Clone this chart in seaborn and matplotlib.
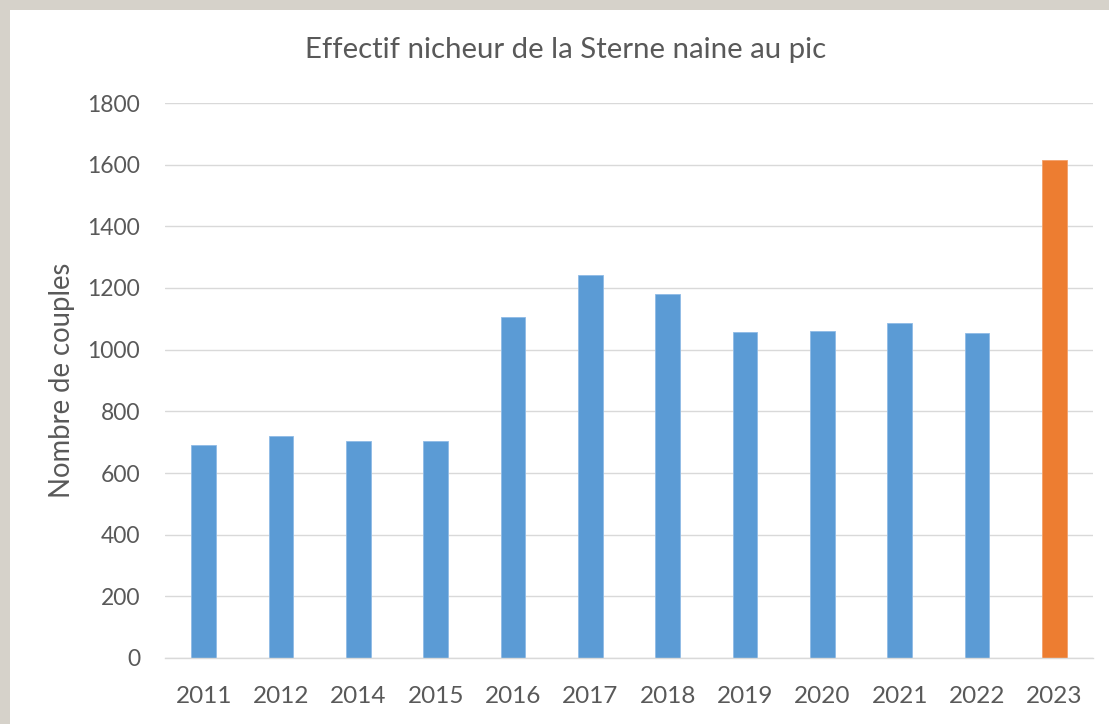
import matplotlib
matplotlib.use("Agg")
import matplotlib.pyplot as plt
import pandas as pd
import seaborn as sns
from matplotlib.patches import Rectangle

# ---------- data ----------
years = ["2011", "2012", "2014", "2015", "2016", "2017",
         "2018", "2019", "2020", "2021", "2022", "2023"]
couples = [690, 720, 705, 705, 1107, 1241, 1182, 1056, 1062, 1087, 1053, 1614]
highlight = ["2023"]

TEXT = "#595959"
BLUE = "#5B9BD5"
ORANGE = "#ED7D31"

sns.set_theme(style="white")
plt.rcParams["font.family"] = ["Lato", "DejaVu Sans"]

df = pd.DataFrame({"annee": years, "couples": couples})
df["groupe"] = ["pic" if y in highlight else "base" for y in years]

fig = plt.figure(figsize=(11.09, 7.24), dpi=100)
fig.patch.set_facecolor("#d6d2ca")
# white chart panel on the textured background
fig.add_artist(Rectangle((10 / 1109, 0), 1 - 10 / 1109, 1 - 10 / 724,
                         transform=fig.transFigure, facecolor="white",
                         edgecolor="none", zorder=-10))

ax = fig.add_axes([165 / 1109, 1 - 658 / 724, (1093 - 165) / 1109, (658 - 103) / 724])
ax.set_zorder(1)
ax.set_facecolor("none")

sns.barplot(data=df, x="annee", y="couples", hue="groupe",
            palette={"base": BLUE, "pic": ORANGE}, width=0.32, saturation=1,
            dodge=False, legend=False, ax=ax, edgecolor="#8fbbe6", linewidth=0.6)
for bar, g in zip(ax.patches, df["groupe"]):
    if g == "pic":
        bar.set_edgecolor("#f3a06a")

ax.set_ylim(0, 1800)
ax.set_xlim(-0.5, len(years) - 0.5)
ax.set_yticks(range(0, 1801, 200))
ax.yaxis.grid(True, color="#d9d9d9", linewidth=1.0)
ax.set_axisbelow(True)
for s in ["top", "right", "left"]:
    ax.spines[s].set_visible(False)
ax.spines["bottom"].set_color("#d9d9d9")
ax.spines["bottom"].set_linewidth(1.0)

ax.tick_params(axis="both", length=0, labelcolor=TEXT)
ax.tick_params(axis="x", pad=20, labelsize=17.5)
ax.tick_params(axis="y", pad=18, labelsize=16.5)
ax.set_xlabel("")
ax.set_ylabel("")

fig.text(62 / 1109, 1 - 380 / 724, "Nombre de couples", rotation=90,
         ha="center", va="center", fontsize=19.8, color=TEXT)
fig.text(566 / 1109, 1 - 50 / 724, "Effectif nicheur de la Sterne naine au pic",
         ha="center", va="center", fontsize=21.2, color=TEXT)

fig.savefig("out.png", dpi=100, facecolor=fig.get_facecolor())
